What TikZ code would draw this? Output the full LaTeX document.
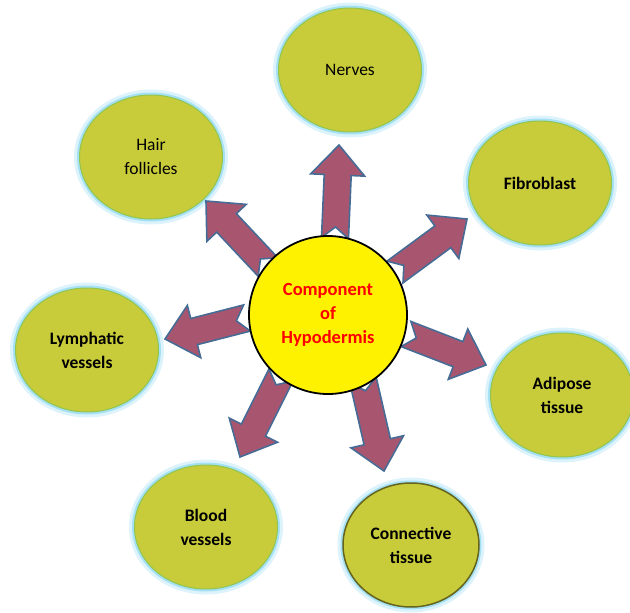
\documentclass[tikz,border=0pt]{standalone}
\usepackage{fontspec}
\setmainfont{Carlito}
\usetikzlibrary{shapes.geometric,calc}
\definecolor{bubblefill}{RGB}{201,204,58}
\definecolor{bubbleedge}{RGB}{146,196,80}
\definecolor{glowA}{RGB}{220,243,252}
\definecolor{glowB}{RGB}{165,225,245}
\definecolor{arrowfill}{RGB}{168,86,112}
\definecolor{arrowedge}{RGB}{70,108,150}
\definecolor{darkedge}{RGB}{100,100,30}
\tikzset{
  bubble/.style={ellipse, fill=bubblefill, draw=bubbleedge, line width=1pt,
    minimum width=143pt, minimum height=124pt, inner sep=0pt, align=center,
    font=\fontsize{17.5}{24}\selectfont,
    preaction={draw=glowA, line width=11pt},
    preaction={draw=glowB, line width=5pt}},
  boldbubble/.style={bubble, font=\fontsize{17.5}{24}\selectfont\bfseries},
  blockarrow/.style={fill=arrowfill, draw=arrowedge, line width=1.6pt, line join=miter},
  hub/.style={circle, fill=yellow, draw=black, line width=1.8pt, minimum size=158pt,
    inner sep=0pt, align=center, text=red, font=\fontsize{18.5}{24}\selectfont\bfseries}
}
\newcommand{\notched}[2]{%
  \coordinate (nt) at (#1);
  \coordinate (np) at (#2);
  \coordinate (nh) at ($(np)!30pt!(nt)$);
  \draw[blockarrow] ($(nt)!13.5pt!90:(np)$) -- ($(nh)!13.5pt!90:(np)$)
    -- ($(nh)!27pt!90:(np)$) -- (np) -- ($(nh)!27pt!-90:(np)$)
    -- ($(nh)!13.5pt!-90:(np)$) -- ($(nt)!13.5pt!-90:(np)$)
    -- ($(nt)!11pt!(np)$) -- cycle;
}
\begin{document}
\begin{tikzpicture}[x=1pt,y=-1pt]
\useasboundingbox (0,0) rectangle (630,613);
% bubbles
\node[bubble] (nerves) at (350,70) {Nerves};
\node[bubble] (hair) at (151,157) {Hair\\follicles};
\node[boldbubble] (fibro) at (540,183) {Fibroblast};
\node[boldbubble] (lymph) at (87,350) {Lymphatic\\vessels};
\node[boldbubble] (adipose) at (562,395) {Adipose\\tissue};
\node[boldbubble] (blood) at (206,527) {Blood\\vessels};
\node[boldbubble, draw=darkedge, line width=1.5pt, minimum width=136pt] (conn) at (411,545) {Connective\\tissue};
% arrows
\coordinate (a1t) at (335,238); \coordinate (a1p) at (339,145);
\coordinate (a2t) at (268,267); \coordinate (a2p) at (206,201);
\coordinate (a3t) at (395,272); \coordinate (a3p) at (467,219);
\coordinate (a4t) at (247,318); \coordinate (a4p) at (165,339);
\coordinate (a5t) at (406,334); \coordinate (a5p) at (486,365);
\coordinate (a6t) at (281,375); \coordinate (a6p) at (240,457);
\coordinate (a7t) at (363,380); \coordinate (a7p) at (384,471);
\notched{a1t}{a1p}
\notched{a2t}{a2p}
\notched{a3t}{a3p}
\notched{a4t}{a4p}
\notched{a5t}{a5p}
\notched{a6t}{a6p}
\notched{a7t}{a7p}
% hub
\node[hub] (hub) at (328,315) {Component\\of\\Hypodermis};
\end{tikzpicture}
\end{document}
